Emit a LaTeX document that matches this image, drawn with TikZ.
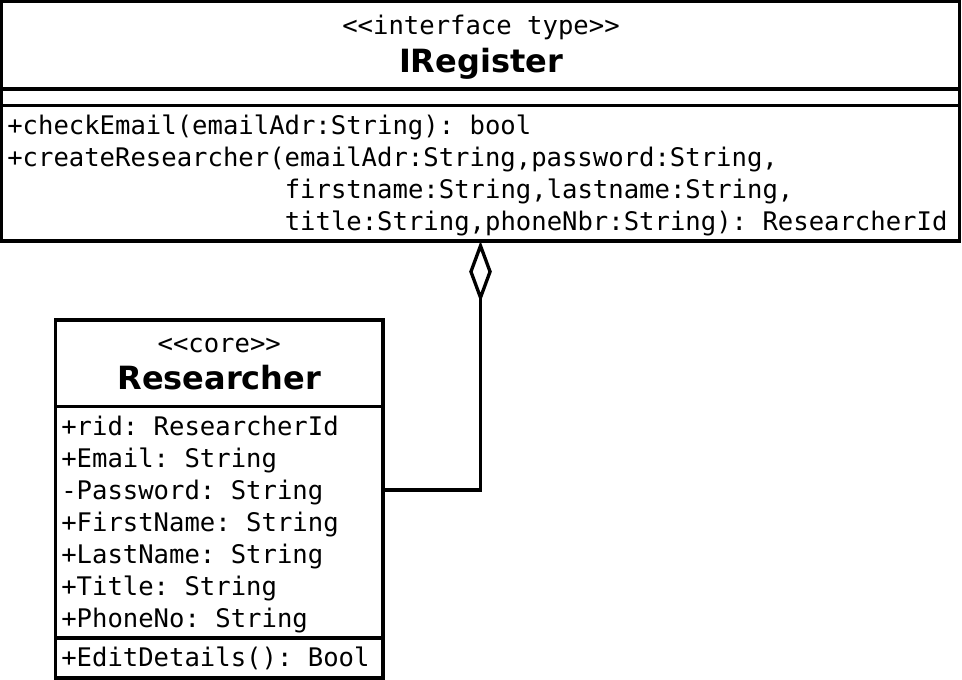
\documentclass[tikz,border=0pt]{standalone}
\usepackage{fontspec}
\setsansfont{DejaVu Sans}
\setmonofont{DejaVu Sans Mono}
\usetikzlibrary{arrows.meta}
\begin{document}
\begin{tikzpicture}[x=0.75pt,y=-0.75pt,
  umlbox/.style={draw, line width=2.5pt, inner sep=0pt, outer sep=0pt, anchor=north west},
  compsep/.style={line width=2.5pt},
  member/.style={anchor=base west, inner sep=0pt, font=\ttfamily\fontsize{19.2}{24}\selectfont},
  stereo/.style={anchor=base, inner sep=0pt, font=\ttfamily\fontsize{19.2}{24}\selectfont},
  classname/.style={anchor=base, inner sep=0pt, font=\sffamily\bfseries\fontsize{24}{29}\selectfont},
  aggregation/.style={line width=2.5pt, -{Diamond[open, length=46pt, width=17pt]}},
]
\useasboundingbox (0,0) rectangle (962,680);
\fill[white] (0,0) rectangle (962,680);

% interface IRegister
\node[umlbox, minimum width=718.5pt, minimum height=179.625pt] (ireg) at (1.5,1.5) {};
\draw[compsep] (ireg.west |- 0,89) -- (ireg.east |- 0,89);
\draw[compsep] (ireg.west |- 0,105.5) -- (ireg.east |- 0,105.5);
\node[stereo] (iregst) at (481,34.5) {<<interface type>>};
\node[classname] (iregname) at (481,73) {IRegister};
\node[member] (iop1) at (7,135) {+checkEmail(emailAdr:String): bool};
\node[member] (iop2) at (7,167) {+createResearcher(emailAdr:String,password:String,};
\node[member] (iop3) at (284.5,199) {firstname:String,lastname:String,};
\node[member] (iop4) at (284.5,231) {title:String,phoneNbr:String): ResearcherId};

% class Researcher
\node[umlbox, minimum width=245.625pt, minimum height=268.5pt] (res) at (55.5,320) {};
\draw[compsep] (res.west |- 0,406.5) -- (res.east |- 0,406.5);
\draw[compsep] (res.west |- 0,638) -- (res.east |- 0,638);
\node[stereo] (resst) at (219.25,352.5) {<<core>>};
\node[classname] (resname) at (219.25,389) {Researcher};
\node[member] (ra1) at (61,435) {+rid: ResearcherId};
\node[member] (ra2) at (61,467) {+Email: String};
\node[member] (ra3) at (61,499) {-Password: String};
\node[member] (ra4) at (61,531) {+FirstName: String};
\node[member] (ra5) at (61,563) {+LastName: String};
\node[member] (ra6) at (61,595) {+Title: String};
\node[member] (ra7) at (61,627) {+PhoneNo: String};
\node[member] (rop1) at (61,666) {+EditDetails(): Bool};

% aggregation
\draw[aggregation] (res.east |- 0,490) -| (ireg.south);
\end{tikzpicture}
\end{document}
